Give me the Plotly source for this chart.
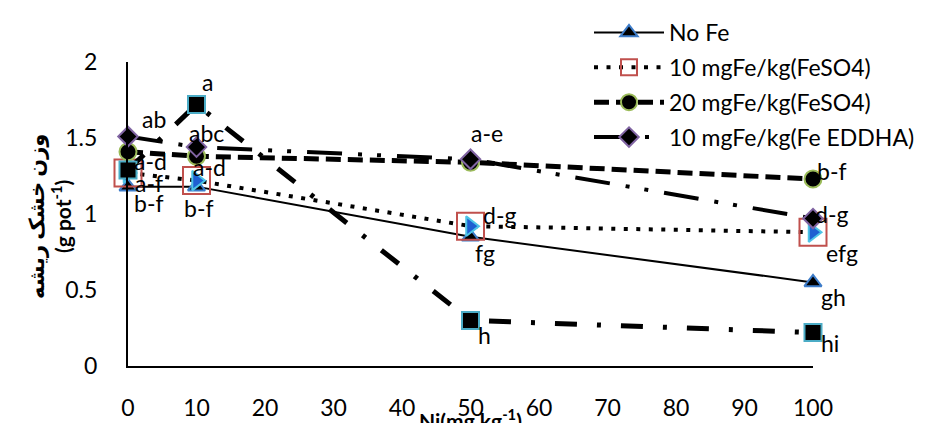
import plotly.graph_objects as go

# ---- data ----
ni = [0, 10, 50, 100]
no_fe = [1.18, 1.18, 0.85, 0.55]
feso4_10 = [1.27, 1.22, 0.92, 0.88]
feso4_20 = [1.41, 1.38, 1.34, 1.23]
fe_eddha = [1.51, 1.44, 1.36, 0.97]
other = [1.29, 1.72, 0.30, 0.22]

names = ["No Fe", "10 mgFe/kg(FeSO4)", "20 mgFe/kg(FeSO4)", "10 mgFe/kg(Fe EDDHA)"]

labels_nofe = ["b-f", "b-f", "fg", "gh"]
labels_feso4_10 = ["a-f", "", "d-g", "efg"]
labels_feso4_20 = ["a-d", "a-d", "", "b-f"]
labels_eddha = ["ab", "abc", "a-e", "d-g"]
labels_other = ["", "a", "h", "hi"]

x_ticks = [0, 10, 20, 30, 40, 50, 60, 70, 80, 90, 100]
y_ticks = [0, 0.5, 1, 1.5, 2]

# ---- styling ----
FONT = "Lato, 'DejaVu Sans', sans-serif"
FS = 23

fig = go.Figure()

# No Fe
fig.add_trace(go.Scatter(
    x=ni, y=no_fe, name=names[0], mode="lines+markers", legendgroup="g1",
    line=dict(color="black", width=2),
    marker=dict(symbol="triangle-up", size=15, color="black",
                line=dict(color="#3d7cc9", width=2)),
    cliponaxis=False))

# 10 mg FeSO4 (red square with blue arrow)
fig.add_trace(go.Scatter(
    x=ni, y=feso4_10, name=names[1], mode="lines+markers", legendgroup="g2",
    line=dict(color="black", width=4, dash="4px,8.5px"),
    marker=dict(symbol="square-open", size=27, color="#c0504d",
                line=dict(color="#c0504d", width=2)),
    cliponaxis=False))
fig.add_trace(go.Scatter(
    x=ni, y=feso4_10, mode="markers", showlegend=False, legendgroup="g2",
    marker=dict(symbol="triangle-right", size=17, color="#1f5fd1",
                line=dict(color="#4dc3e6", width=2)),
    cliponaxis=False, hoverinfo="skip"))

# 20 mg FeSO4
fig.add_trace(go.Scatter(
    x=ni, y=feso4_20, name=names[2], mode="lines+markers", legendgroup="g3",
    line=dict(color="black", width=5, dash="15px,7px"),
    marker=dict(symbol="circle", size=17, color="black",
                line=dict(color="#9bbb59", width=2)),
    cliponaxis=False))

# 10 mg Fe EDDHA
fig.add_trace(go.Scatter(
    x=ni, y=fe_eddha, name=names[3], mode="lines+markers", legendgroup="g4",
    line=dict(color="black", width=4, dash="35px,16px,4px,15px,4px,16px"),
    marker=dict(symbol="diamond", size=15, color="black",
                line=dict(color="#8064a2", width=2)),
    cliponaxis=False))

# fifth series (not in legend)
fig.add_trace(go.Scatter(
    x=ni, y=other, name="", mode="lines+markers", showlegend=False,
    line=dict(color="black", width=5, dash="22px,20px,4px,20px"),
    marker=dict(symbol="square", size=17, color="black",
                line=dict(color="#4bacc6", width=2)),
    cliponaxis=False))

# ---- point labels ----
series_labels = [
    (no_fe, labels_nofe, [(21, -16), (2, -21), (14, -16), (20, -15)]),
    (feso4_10, labels_feso4_10, [(21, -10), (0, 0), (29, 11), (29, -21)]),
    (feso4_20, labels_feso4_20, [(22, -9), (13, -11), (0, 0), (19, 8)]),
    (fe_eddha, labels_eddha, [(26, 17), (10, 14), (16, 26), (18, 5)]),
    (other, labels_other, [(0, 0), (11, 23), (14, -15), (17, -10)]),
]
for vals, labs, offs in series_labels:
    for xv, yv, lab, (dx, dy) in zip(ni, vals, labs, offs):
        if lab:
            fig.add_annotation(x=xv, y=yv, text=lab, showarrow=False,
                               xshift=dx, yshift=dy,
                               font=dict(family=FONT, size=FS, color="black"))

# axis titles
fig.add_annotation(xref="paper", yref="paper", x=0.5, y=-0.175,
                   text="<b>Ni(mg kg<sup>-1</sup>)</b>", showarrow=False,
                   xanchor="center", yanchor="middle",
                   font=dict(family=FONT, size=21, color="black"))
fig.add_annotation(xref="paper", yref="paper", x=(41 - 120) / 685, y=0.49,
                   text="<b>وزن خشک ریشه</b><br><b>(g pot<sup>-1</sup>)</b>",
                   showarrow=False, textangle=-90,
                   xanchor="center", yanchor="middle",
                   font=dict(family=FONT, size=21, color="black"))

fig.update_layout(
    width=925, height=423, autosize=False,
    margin=dict(l=120, r=120, t=54, b=65, autoexpand=False),
    paper_bgcolor="white", plot_bgcolor="white",
    font=dict(family=FONT, size=FS, color="black"),
    showlegend=True,
    legend=dict(x=0.673, y=1.168, xanchor="left", yanchor="top",
                bgcolor="rgba(0,0,0,0)", itemwidth=70,
                tracegroupgap=2,
                font=dict(family=FONT, size=FS, color="black")),
    xaxis=dict(range=[0, 100], tickvals=x_ticks, showgrid=False, zeroline=False,
               showline=True, linecolor="black", linewidth=2, automargin=False,
               ticks="outside", ticklen=20, tickcolor="rgba(0,0,0,0)",
               tickfont=dict(family=FONT, size=FS)),
    yaxis=dict(range=[0, 2], tickvals=y_ticks, showgrid=False, zeroline=False,
               showline=True, linecolor="black", linewidth=2, automargin=False,
               ticks="outside", ticklen=24, tickcolor="rgba(0,0,0,0)",
               tickfont=dict(family=FONT, size=FS)),
)

fig.write_html("out.html")
